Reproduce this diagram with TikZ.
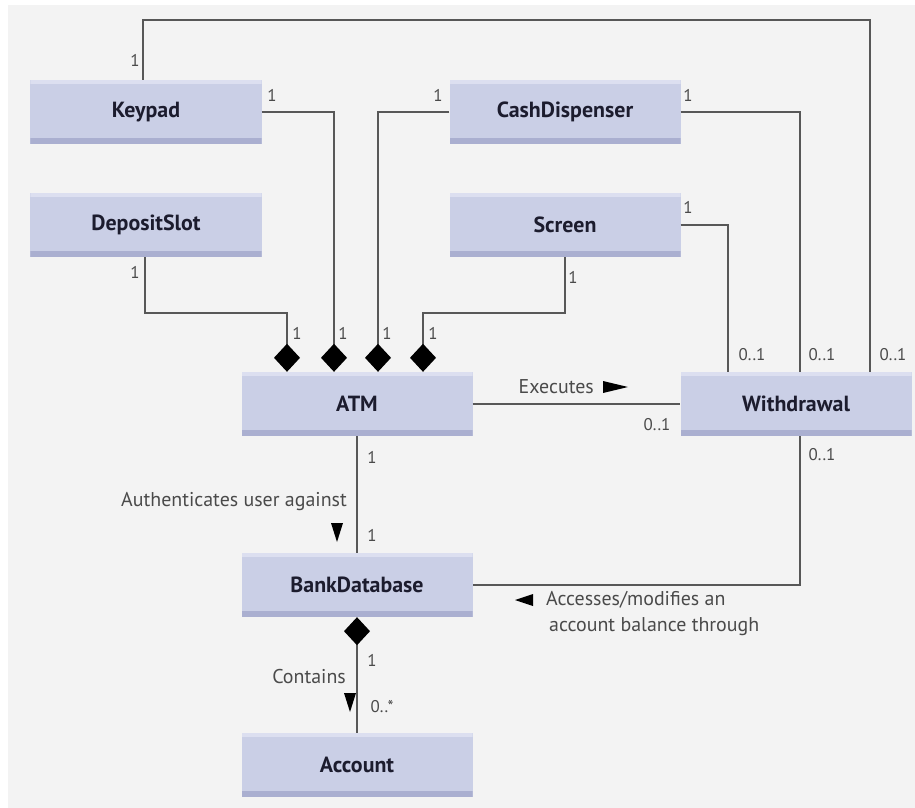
\documentclass[tikz,border=0pt]{standalone}
\usepackage{fontspec}
\setmainfont{PT Sans}
\usetikzlibrary{arrows.meta}
\definecolor{bg}{HTML}{F3F3F3}
\definecolor{boxfill}{HTML}{CACFE6}
\definecolor{boxdark}{HTML}{AAAFD0}
\definecolor{boxlight}{HTML}{DCDFF0}
\definecolor{wire}{HTML}{575757}
\definecolor{labelgrey}{HTML}{4A4A4A}
\definecolor{classtext}{HTML}{1C1C2E}

\begin{document}
\begin{tikzpicture}[x=1bp,y=-1bp,
  classbox/.style={rectangle, minimum width=231bp, minimum height=64bp,
    inner sep=0pt, fill=boxfill, text=classtext,
    font=\fontsize{22}{26}\selectfont\bfseries,
    path picture={
      \fill[boxdark] (path picture bounding box.south west)
        rectangle ([yshift=6bp]path picture bounding box.south east);
      \fill[boxlight] (path picture bounding box.north west)
        rectangle ([yshift=-4bp]path picture bounding box.north east);
    }},
  assoc/.style={draw=wire, line width=1.6bp},
  comp/.style={assoc, -{Diamond[length=28bp,width=26bp,color=black]}},
  mult/.style={font=\fontsize{17}{19}\selectfont, text=labelgrey, inner sep=0pt},
  role/.style={font=\fontsize{20}{23}\selectfont, text=labelgrey, inner sep=0pt},
]
% page and background
\useasboundingbox (0,0) rectangle (915,808);
\fill[white] (0,0) rectangle (915,808);
\fill[bg] (8,5) rectangle (915,808);

% classes
\node[classbox] (keypad)     at (146,112) {Keypad};
\node[classbox] (deposit)    at (146,225) {DepositSlot};
\node[classbox] (cash)       at (565,112) {CashDispenser};
\node[classbox] (screen)     at (565,225) {Screen};
\node[classbox] (atm)        at (357,404) {ATM};
\node[classbox] (withdrawal) at (796,404) {Withdrawal};
\node[classbox] (bank)       at (357,585) {BankDatabase};
\node[classbox] (account)    at (357,765) {Account};

% routing corner for the long association along the top
\coordinate (topright) at (870,20);

% compositions into ATM
\draw[comp] (keypad.east) -| ([xshift=-23bp]atm.north);
\draw[comp] (cash.west) -| ([xshift=21bp]atm.north);
\draw[comp] ([xshift=-1bp]deposit.south) -- ++(0,56) -| ([xshift=-70bp]atm.north);
\draw[comp] (screen.south) -- ++(0,56) -| ([xshift=66bp]atm.north);

% associations with Withdrawal
\draw[assoc] ([xshift=-3bp]keypad.north) |- (topright) -- (topright |- withdrawal.north);
\draw[assoc] (cash.east) -| ([xshift=4bp]withdrawal.north);
\draw[assoc] (screen.east) -| ([xshift=-68bp]withdrawal.north);
\draw[assoc] (atm.east) -- (withdrawal.west);
\draw[assoc] ([xshift=4bp]withdrawal.south) |- (bank.east);

% ATM, BankDatabase and Account
\draw[assoc] (atm.south) -- (bank.north);
\draw[comp] (account.north) -- (bank.south);

% multiplicities
\node[mult] (m1)  at (135,60)  {1};
\node[mult] (m2)  at (272,95)  {1};
\node[mult] (m3)  at (438,95)  {1};
\node[mult] (m4)  at (688,95)  {1};
\node[mult] (m5)  at (688,207) {1};
\node[mult] (m6)  at (135,272) {1};
\node[mult] (m7)  at (573,277) {1};
\node[mult] (m8)  at (297,333) {1};
\node[mult] (m9)  at (343,333) {1};
\node[mult] (m10) at (387,333) {1};
\node[mult] (m11) at (433,333) {1};
\node[mult] (m12) at (752,355) {0..1};
\node[mult] (m13) at (822,355) {0..1};
\node[mult] (m14) at (893,355) {0..1};
\node[mult] (m15) at (657,425) {0..1};
\node[mult] (m16) at (822,455) {0..1};
\node[mult] (m17) at (372,457) {1};
\node[mult] (m18) at (372,535) {1};
\node[mult] (m19) at (372,660) {1};
\node[mult] (m20) at (382,707) {0..*};

% association names with reading direction
\node[role, anchor=east] (executes) at (594,387) {Executes};
\fill (603,381) -- (628,387) -- (603,393) -- cycle;

\node[role, anchor=east] (auth) at (347,502) {Authenticates user against};
\fill (331,523) -- (343,523) -- (337,542) -- cycle;

\node[role, anchor=east] (contains) at (346,677) {Contains};
\fill (344,693) -- (356,693) -- (350,712) -- cycle;

\fill (533,594) -- (515,600) -- (533,606) -- cycle;
\node[role, anchor=west] (access1) at (546,600) {Accesses/modifies an};
\node[role, anchor=west] (access2) at (549,627) {account balance through};
\end{tikzpicture}
\end{document}
